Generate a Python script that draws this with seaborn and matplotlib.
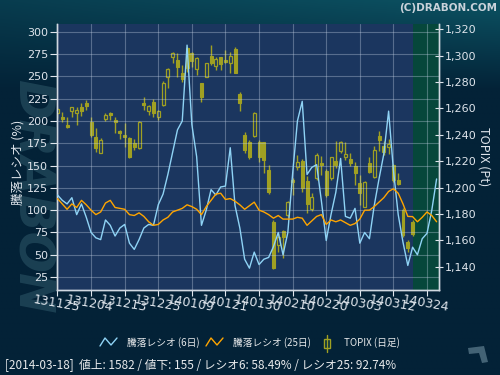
import numpy as np
import pandas as pd
import matplotlib
matplotlib.use("Agg")
import matplotlib.pyplot as plt
import seaborn as sns

# ---------------- data ----------------
tick_labels = ["131125", "131204", "131213", "131225", "140109", "140121",
               "140130", "140210", "140220", "140303", "140312", "140324"]
tick_pos = [0, 7, 14, 21, 28, 35, 42, 49, 56, 63, 70, 77]

ratio6 = [117, 111, 107, 114, 95, 107, 92, 75, 69, 67,
          89, 83, 71, 80, 84, 63, 56, 67, 80, 84,
          83, 106, 118, 140, 165, 190, 200, 285, 196, 160,
          83, 100, 123, 117, 126, 127, 170, 105, 80, 45,
          35, 53, 39, 45, 47, 59, 75, 50, 75, 141,
          200, 222, 140, 148, 151, 110, 66, 95, 120, 158,
          93, 91, 102, 63, 75, 68, 105, 135, 163, 211,
          145, 95, 64, 38, 58.49, 50, 68, 74, 100, 135]

ratio25 = [113, 107, 101, 107, 103, 111, 106, 100, 95, 98,
           108, 111, 103, 102, 101, 95, 94, 97, 93, 87,
           83, 84, 89, 92, 98, 100, 102, 106, 104, 101,
           95, 104, 111, 118, 119, 112, 113, 110, 106, 101,
           105, 109, 100, 98, 95, 91, 94, 90, 90, 90,
           92, 91, 83, 88, 93, 95, 84, 89, 87, 89,
           86, 83, 85, 90, 100, 100, 104, 109, 114, 121,
           124, 119, 107, 93, 92.74, 87, 92, 98, 94, 87]

topix_open = [1256.3, 1253.8, 1247.5, 1258.1, 1256.8, 1260.9, 1263.9, 1249.5, 1238.2, 1226.5,
              1251.8, 1256.8, 1251.3, 1242.9, 1239.9, 1237.4, 1233.6, 1229.8, 1264.4, 1258.4,
              1264.7, 1253.3, 1262.7, 1284.1, 1298.8, 1296.7, 1286.6, 1305.6, 1302.3, 1289.7,
              1279.1, 1284.1, 1299.8, 1292.2, 1298.8, 1296.7, 1294.2, 1304.8, 1271.0, 1239.9,
              1234.9, 1239.4, 1234.9, 1234.6, 1213.4, 1174.3, 1156.6, 1167.0, 1179.3, 1205.9,
              1216.0, 1220.0, 1205.0, 1184.0, 1207.1, 1219.0, 1213.0, 1207.1, 1220.0, 1228.0,
              1223.0, 1221.7, 1216.8, 1203.8, 1185.7, 1219.0, 1208.0, 1239.5, 1231.8, 1230.6,
              1217.2, 1205.9, 1183.1, 1158.6, 1174.3]
topix_high = [1260.9, 1257.6, 1253.8, 1260.9, 1260.9, 1263.9, 1266.4, 1253.8, 1245.0, 1237.4,
              1256.3, 1257.6, 1253.3, 1243.7, 1249.3, 1238.2, 1236.6, 1250.8, 1268.5, 1262.7,
              1267.2, 1258.9, 1281.1, 1290.4, 1303.1, 1301.8, 1292.9, 1306.8, 1303.1, 1299.3,
              1279.1, 1294.7, 1308.1, 1299.3, 1299.3, 1304.3, 1303.1, 1306.8, 1272.8, 1242.5,
              1236.5, 1257.1, 1236.1, 1234.9, 1217.2, 1175.5, 1165.5, 1168.0, 1189.9, 1207.0,
              1224.8, 1222.0, 1209.0, 1196.0, 1226.0, 1224.0, 1214.0, 1223.5, 1235.1, 1235.1,
              1234.4, 1226.0, 1219.7, 1209.6, 1205.0, 1223.5, 1231.8, 1242.6, 1235.6, 1236.9,
              1218.0, 1210.9, 1184.4, 1160.4, 1175.5]
topix_low = [1252.6, 1250.0, 1245.5, 1253.8, 1247.5, 1254.3, 1258.9, 1238.7, 1227.3, 1226.0,
             1250.8, 1251.3, 1241.7, 1236.6, 1231.1, 1222.3, 1228.6, 1229.3, 1258.9, 1255.1,
             1253.8, 1251.3, 1261.9, 1275.3, 1294.7, 1284.1, 1280.3, 1287.9, 1291.7, 1285.4,
             1265.2, 1283.6, 1292.9, 1289.2, 1289.2, 1294.2, 1286.6, 1286.6, 1258.4, 1226.0,
             1222.0, 1238.1, 1219.8, 1210.9, 1195.0, 1138.5, 1151.6, 1146.5, 1178.1, 1194.5,
             1213.4, 1197.0, 1181.0, 1182.0, 1205.5, 1209.6, 1193.2, 1206.0, 1215.0, 1226.0,
             1221.0, 1216.4, 1202.0, 1187.0, 1185.0, 1211.0, 1207.0, 1228.0, 1225.0, 1225.5,
             1204.6, 1202.0, 1162.9, 1151.6, 1163.5]
topix_close = [1259.4, 1251.8, 1245.7, 1260.9, 1258.9, 1258.4, 1261.9, 1239.9, 1229.8, 1236.1,
               1255.1, 1255.3, 1249.8, 1241.2, 1238.4, 1223.0, 1231.1, 1250.0, 1262.7, 1261.9,
               1256.8, 1258.1, 1279.1, 1289.7, 1302.3, 1291.7, 1282.1, 1290.4, 1296.2, 1298.0,
               1268.5, 1294.2, 1294.2, 1297.2, 1293.7, 1295.5, 1299.8, 1287.1, 1264.4, 1228.6,
               1223.5, 1256.3, 1223.5, 1221.0, 1196.5, 1139.0, 1163.0, 1163.0, 1189.4, 1204.0,
               1219.5, 1199.5, 1188.0, 1193.0, 1224.8, 1217.2, 1194.5, 1223.0, 1217.5, 1234.4,
               1225.5, 1218.5, 1211.5, 1196.0, 1204.6, 1212.1, 1228.5, 1236.3, 1227.0, 1233.3,
               1205.8, 1203.0, 1164.2, 1154.6, 1164.7]

status_text = "[2014-03-18]  値上: 1582 / 値下: 155 / レシオ6: 58.49% / レシオ25: 92.74%"

# ---------------- style ----------------
sns.set_theme(style="dark")
plt.rcParams["font.family"] = ["Noto Sans CJK JP", "DejaVu Sans"]
plt.rcParams["axes.unicode_minus"] = False

W, H = 500, 375
fig = plt.figure(figsize=(5, 3.75), dpi=100)
fig.patch.set_facecolor("#032338")

# background gradient + decorations (pixel coords, y downward)
bg = fig.add_axes([0, 0, 1, 1], zorder=-10)
bg.set_xlim(0, W)
bg.set_ylim(H, 0)
bg.axis("off")
yy = np.linspace(0, 1, 200)[:, None]
xx = np.linspace(0, 1, 200)[None, :]
top = np.array([0x0c, 0x52, 0x62]) / 255
bot = np.array([0x03, 0x22, 0x37]) / 255
t = np.clip(1 - yy * 375 / 90, 0, 1) * (0.55 + 0.45 * xx)
img = bot[None, None, :] + (top - bot)[None, None, :] * t[:, :, None]
bg.imshow(img, extent=[0, W, H, 0], aspect="auto", zorder=0)
bg.text(31, 197, "DRABON", rotation=-90, fontsize=35, fontweight="bold",
        style="italic", color="#3f6d7c", alpha=0.4, ha="center", va="center",
        family="DejaVu Sans", zorder=1)
bg.text(497, 8, "(C)DRABON.COM", fontsize=7.5, fontweight="bold", color="#c9d2da",
        ha="right", va="center", family="DejaVu Sans")

# legend
bg.plot([100, 105, 111, 117], [346, 338, 345, 338], color="#8fd3f5", lw=1)
bg.text(127, 343, "騰落レシオ (6日)", fontsize=7, color="#e6e8ea", va="center")
bg.plot([206, 211, 217, 223], [346, 338, 345, 338], color="#ffa500", lw=1)
bg.text(233, 343, "騰落レシオ (25日)", fontsize=7, color="#e6e8ea", va="center")
bg.plot([327, 327], [335, 352], color="#a0a022", lw=1)
bg.add_patch(plt.Rectangle((324, 339), 6, 9, fill=True, facecolor="#032a3e",
                           edgecolor="#a0a022", lw=1))
bg.text(344, 343, "TOPIX (日足)", fontsize=7, color="#e6e8ea", va="center")
bg.text(5, 366, status_text, fontsize=8.5, color="#e8eaec", va="center")
bg.add_patch(plt.Polygon([[468, 348], [484, 346], [488, 362], [482, 363], [479, 353], [469, 354]],
                         closed=True, facecolor="#5f7f90", edgecolor="none", alpha=0.7))

# ---------------- main axes ----------------
x0, x1, y0, y1 = 57, 439, 24, 290
ax = fig.add_axes([x0 / W, 1 - y1 / H, (x1 - x0) / W, (y1 - y0) / H])
ax2 = ax.twinx()
ax.set_zorder(ax2.get_zorder() + 1)
ax.patch.set_visible(False)
ax2.patch.set_visible(True)
ax2.patch.set_facecolor("#1b365f")

n_days = len(ratio6)
df = pd.DataFrame({"idx": np.arange(n_days), "r6": ratio6, "r25": ratio25})
candles = pd.DataFrame({"idx": np.arange(len(topix_close)), "open": topix_open,
                        "high": topix_high, "low": topix_low, "close": topix_close})

xmin, xmax = -0.1, 79.5
ax.set_xlim(xmin, xmax)
ax2.set_xlim(xmin, xmax)

# highlighted region
ax2.axvspan(candles["idx"].iloc[-1], xmax, color="#06473b", lw=0, zorder=0)

# candles
olive = "#a0a022"
up = candles["close"] >= candles["open"]
ax2.vlines(candles["idx"], candles["low"], candles["high"], color=olive, lw=1, zorder=2)
body_lo = np.minimum(candles["open"], candles["close"])
body_h = np.maximum(np.abs(candles["close"] - candles["open"]), 0.8)
ax2.bar(candles["idx"][~up], body_h[~up], bottom=body_lo[~up], width=0.62,
        color=olive, edgecolor=olive, lw=0.8, zorder=3)
ax2.bar(candles["idx"][up], body_h[up], bottom=body_lo[up], width=0.62,
        facecolor="#1b365f", edgecolor=olive, lw=0.9, zorder=3)

# ratio lines
sns.lineplot(data=df, x="idx", y="r6", ax=ax, color="#8fd3f5", lw=1, legend=False, zorder=4)
sns.lineplot(data=df, x="idx", y="r25", ax=ax, color="#ffa500", lw=1, legend=False, zorder=5)

ax.set_ylim(10.5, 308.7)
ax2.set_ylim(1122.5, 1324)
ax.set_yticks(np.arange(25, 301, 25))
ax2.set_yticks(np.arange(1140, 1321, 20))
ax2.set_yticklabels([f"{v:,}" for v in np.arange(1140, 1321, 20)])
ax.set_xticks(tick_pos)
ax.set_xticklabels(tick_labels, rotation=-10, ha="center", rotation_mode="anchor")

grid_kw = dict(color="#c8d4e8", alpha=0.35, lw=0.8)
ax.grid(True, axis="both", **grid_kw)
ax2.grid(False)

txt_col = "#dfe5ec"
ax.tick_params(axis="y", colors=txt_col, labelsize=8, length=5, width=0.8, pad=1.5,
               left=True, direction="out")
ax.tick_params(axis="x", colors=txt_col, labelsize=9, length=4, width=0.8, pad=1,
               bottom=True, direction="out")
ax2.tick_params(axis="y", colors=txt_col, labelsize=8, length=6, width=0.8, pad=1,
                right=True, direction="inout")
for lab in ax.get_xticklabels() + ax.get_yticklabels() + ax2.get_yticklabels():
    lab.set_family("DejaVu Sans")

ax.set_xlabel("")
ax.set_ylabel("騰落レシオ (%)", color=txt_col, fontsize=9, rotation=90, va="center", ha="center")
ax.yaxis.set_label_coords((18 - x0) / (x1 - x0), 0.48)
ax2.set_ylabel("TOPIX (Pt)", color=txt_col, fontsize=9, rotation=270, va="center", ha="center")
ax2.yaxis.set_label_coords((484 - x0) / (x1 - x0), 0.5)

for a in (ax, ax2):
    a.spines["top"].set_visible(False)
    for s in ("left", "right", "bottom"):
        a.spines[s].set_color("#d0d8e0")
        a.spines[s].set_linewidth(1)

fig.savefig("out.png", dpi=100, facecolor=fig.get_facecolor())
